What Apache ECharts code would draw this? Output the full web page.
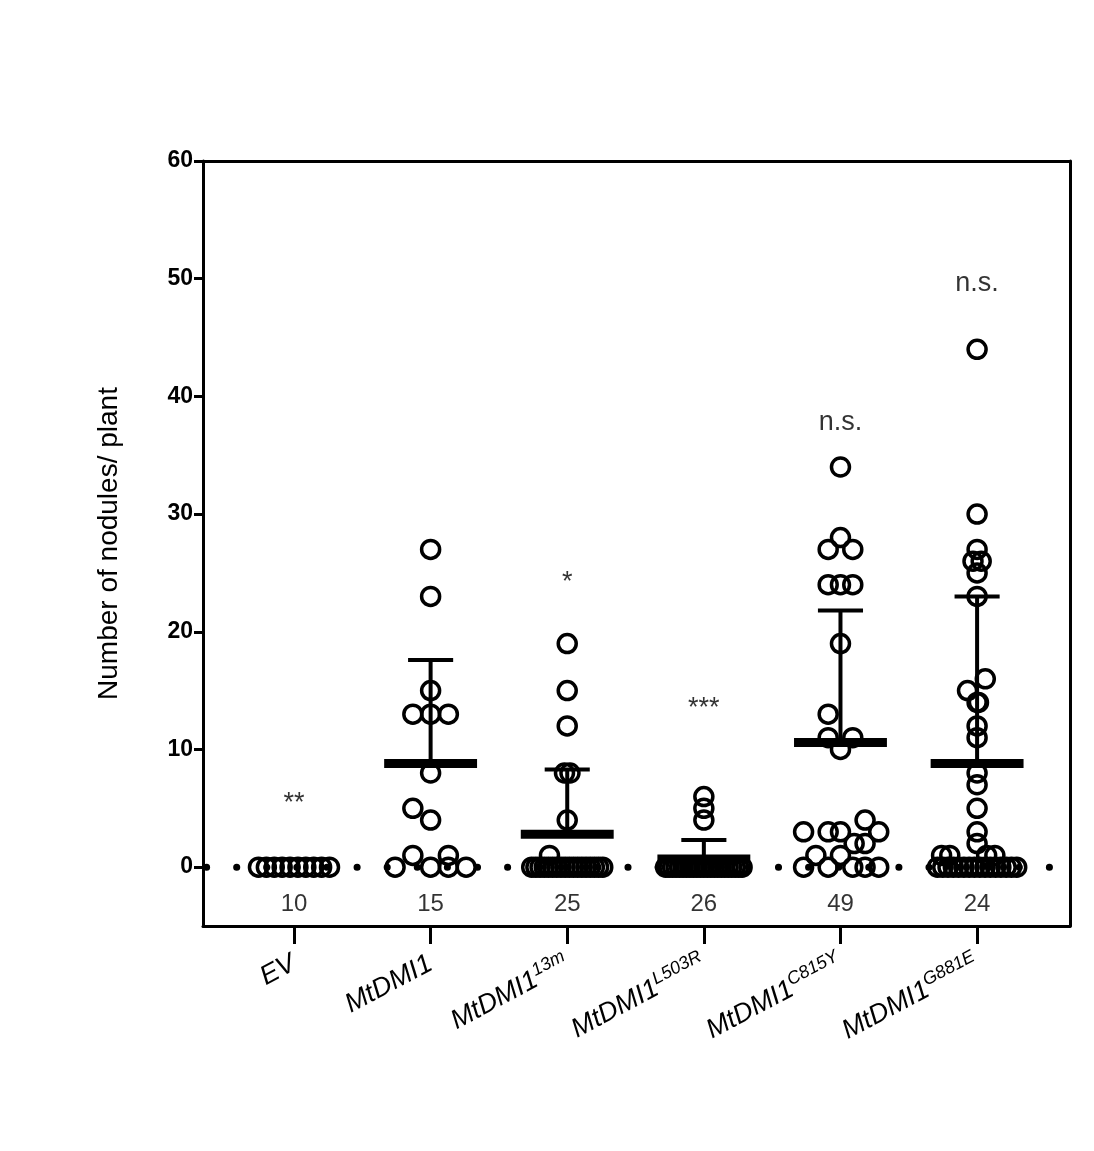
<!DOCTYPE html>
<html><head><meta charset="utf-8">
<script src="https://cdn.jsdelivr.net/npm/echarts@6/dist/echarts.min.js"></script>
<style>html,body{margin:0;padding:0;background:#fff}#c{width:1094px;height:1151px}</style>
</head><body><div id="c"></div>
<script>
// ---- data ----
const categories = ['EV','MtDMI1','MtDMI1|13m','MtDMI1|L503R','MtDMI1|C815Y','MtDMI1|G881E'];
const counts = [10,15,25,26,49,24];
const means = [0,8.8,2.8,0.7,10.6,8.8];
const sdTop = [0,17.6,8.3,2.3,21.8,23.0];
const signif = ['**','','*','***','n.s.','n.s.'];
const signifY = [5.4,0,24.2,13.5,37.8,49.6];
// non-zero values and their swarm offsets, plus number of zero values
const vals_EV = []; const offs_EV = []; const zeros_EV = 10;
const vals_WT = [27,23,15,13,13,13,8,5,4,1,1]; const offs_WT = [0,0,0,-0.13,0,0.13,0,-0.13,0,-0.13,0.13];
const zeros_WT = 4;
const vals_13m = [19,15,12,8,8,4,1]; const offs_13m = [0,0,0,-0.02,0.02,0,-0.13]; const zeros_13m = 18;
const vals_L503R = [6,5,4]; const offs_L503R = [0,0,0]; const zeros_L503R = 23;
const vals_C815Y = [34,28,27,27,24,24,24,19,13,11,11,10,4,3,3,3,3,2,2,1,1];
const offs_C815Y = [0,0,-0.09,0.09,-0.09,0,0.09,0,-0.09,-0.09,0.09,0,0.18,-0.27,-0.09,0,0.28,0.1,0.18,-0.18,0];
const zeros_C815Y = 5;
const vals_G881E = [44,30,27,26,26,25,23,16,15,14,14,12,11,8,7,5,3,2,1,1,1,1];
const offs_G881E = [0,0,0,-0.03,0.03,0,0,0.06,-0.07,0,0.01,0,0,0,0,0,0,0,-0.26,-0.2,0.07,0.13];
const zeros_G881E = 16;

const groups = [
  [vals_EV,offs_EV,zeros_EV,0.26],
  [vals_WT,offs_WT,zeros_WT,0.26],
  [vals_13m,offs_13m,zeros_13m,0.26],
  [vals_L503R,offs_L503R,zeros_L503R,0.28],
  [vals_C815Y,offs_C815Y,zeros_C815Y,0.28],
  [vals_G881E,offs_G881E,zeros_G881E,0.29]
];
const pts = [];
groups.forEach((g,i)=>{
  g[0].forEach((v,k)=>pts.push([i+g[1][k],v]));
  if(i===1){[-0.26,0,0.26,0.13].forEach(o=>pts.push([i+o,0]));return;}
  if(i===4){[-0.27,-0.09,0.09,0.18,0.28].forEach(o=>pts.push([i+o,0]));return;}
  const n=g[2], s=g[3];
  for(let k=0;k<n;k++) pts.push([i-s+2*s*k/(n-1),0]);
});

const chart = echarts.init(document.getElementById('c'));
const F = 'Liberation Sans, Arial, sans-serif';
chart.setOption({
  animation:false,
  grid:{left:203,right:24,top:161,bottom:225},
  xAxis:[{type:'value',min:-0.666,max:5.68,
    axisLine:{onZero:false,lineStyle:{color:'#000',width:3}},
    axisTick:{customValues:[0,1,2,3,4,5],length:18,lineStyle:{color:'#000',width:3}},
    axisLabel:{customValues:[0,1,2,3,4,5],rotate:28,margin:36,fontFamily:F,fontSize:27,color:'#000',fontStyle:'italic',
      formatter:v=>{const c=categories[Math.round(v)];const p=c.split('|');return p.length>1?'{m|'+p[0]+'}{s|'+p[1]+'}':'{m|'+p[0]+'}';},
      rich:{m:{fontFamily:F,fontSize:27,fontStyle:'italic',color:'#000'},s:{fontFamily:F,fontSize:18,fontStyle:'italic',color:'#000',verticalAlign:'bottom',padding:[0,0,15,0]}}},
    splitLine:{show:false}},
   {type:'value',position:'top',min:-0.666,max:5.68,axisLine:{show:true,onZero:false,lineStyle:{color:'#000',width:3}},axisTick:{show:false},axisLabel:{show:false},splitLine:{show:false}}],
  yAxis:[{type:'value',min:-5,max:60,name:'Number of nodules/ plant',nameLocation:'middle',nameGap:80,
    nameTextStyle:{fontFamily:F,fontSize:28,color:'#000'},
    axisLine:{show:true,onZero:false,lineStyle:{color:'#000',width:3}},
    axisTick:{show:true,customValues:[0,10,20,30,40,50,60],length:9,lineStyle:{color:'#000',width:3}},
    axisLabel:{customValues:[0,10,20,30,40,50,60],fontFamily:F,fontSize:23,fontWeight:'bold',color:'#000',margin:10},
    splitLine:{show:false}},
   {type:'value',position:'right',min:-5,max:60,axisLine:{show:true,onZero:false,lineStyle:{color:'#000',width:3}},axisTick:{show:false},axisLabel:{show:false},splitLine:{show:false}}],
  series:[
    {type:'line',data:[[-0.64,0],[5.68,0]],symbol:'none',z:1,
      lineStyle:{color:'#000',width:7,type:[0.1,30],cap:'round'}},
    {type:'scatter',data:pts,symbol:'circle',symbolSize:18,z:3,
      itemStyle:{color:'rgba(0,0,0,0)',borderColor:'#000',borderWidth:3.5,opacity:1}},
    {type:'custom',z:4,data:means.map((m,i)=>[i,m,sdTop[i]]),
      renderItem:(p,api)=>{
        const i=api.value(0),m=api.value(1),t=api.value(2);
        if(t<=0) return {type:'group',children:[]};
        const a=api.coord([i-0.34,m]),b=api.coord([i+0.34,m]);
        const c1=api.coord([i-0.165,t]),c2=api.coord([i+0.165,t]);
        const cm=api.coord([i,m]);
        const st={stroke:'#000',lineWidth:4};
        return {type:'group',children:[
          {type:'line',shape:{x1:cm[0],y1:cm[1],x2:cm[0],y2:c1[1]},style:st},
          {type:'line',shape:{x1:c1[0],y1:c1[1],x2:c2[0],y2:c2[1]},style:st},
          {type:'rect',shape:{x:a[0],y:a[1]-4.5,width:b[0]-a[0],height:9},style:{fill:'#000'}}
        ]};
      }},
    {type:'scatter',symbolSize:0,z:5,data:counts.map((c,i)=>[i,-3.2,c]),
      label:{show:true,position:'inside',formatter:p=>String(p.value[2]),fontFamily:F,fontSize:24,color:'#000',textBorderWidth:0}},
    {type:'scatter',symbolSize:0,z:5,data:signif.map((s,i)=>[i,signifY[i],s]).filter(d=>d[2]),
      label:{show:true,position:'inside',formatter:p=>p.value[2],fontFamily:F,fontSize:27,color:'#000',textBorderWidth:0}}
  ]
});
</script></body></html>
